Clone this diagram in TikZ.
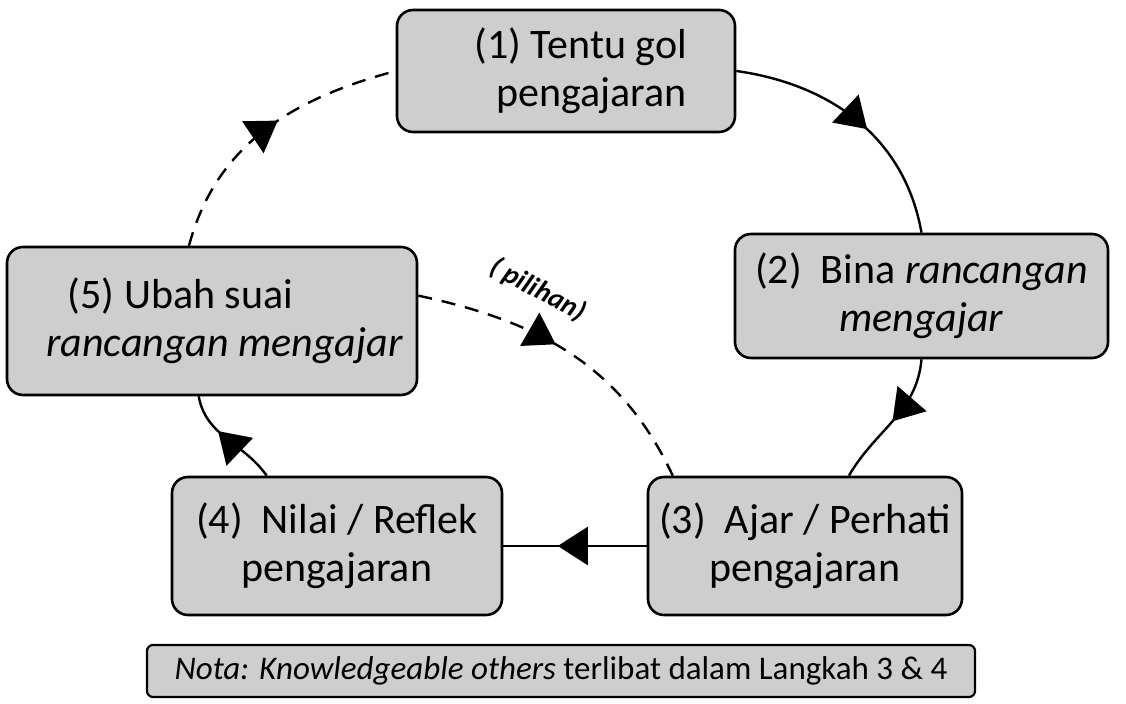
\documentclass[tikz,border=0pt]{standalone}
\usepackage{fontspec}
\setmainfont{Carlito}
\usetikzlibrary{arrows.meta,decorations.markings}
\definecolor{boxgray}{HTML}{CECECE}
\tikzset{
  stepbox/.style={draw, line width=1.3pt, rounded corners=8pt, fill=boxgray,
    align=center, font=\fontsize{21}{24}\selectfont, inner sep=0pt},
  notebox/.style={draw, line width=1.1pt, rounded corners=3pt, fill=boxgray,
    align=center, font=\fontsize{16.5}{18}\selectfont, inner sep=0pt},
  flow/.style={line width=1.2pt},
  dashflow/.style={flow, dash pattern=on 7pt off 5pt},
  midarrow/.style={postaction={decorate, decoration={markings,
    mark=at position #1 with {\arrow{Triangle[length=15pt,width=19pt]}}}}},
  pilabel/.style={font=\fontsize{14}{14}\selectfont\bfseries\itshape, inner sep=0pt}
}
\begin{document}
\begin{tikzpicture}[x=0.5pt,y=-0.5pt]
\useasboundingbox (0,0) rectangle (1126,704);
\node[stepbox, minimum width=169pt, minimum height=61pt] (b1) at (566,71)
  {\hspace*{0.7em}(1) Tentu gol\\\hspace*{1.2em}pengajaran};
\node[stepbox, minimum width=186.5pt, minimum height=62pt] (b2) at (921.5,296)
  {(2)\hspace{0.45em}Bina \textit{rancangan}\\\textit{mengajar}};
\node[stepbox, minimum width=157pt, minimum height=69pt] (b3) at (805,546)
  {(3)\hspace{0.45em}Ajar / Perhati\\pengajaran};
\node[stepbox, minimum width=165pt, minimum height=69pt] (b4) at (337,546)
  {(4)\hspace{0.45em}Nilai / Reflek\\pengajaran};
\node[stepbox, minimum width=205pt, minimum height=74pt] (b5) at (212,321)
  {(5) Ubah suai\hspace*{1.5em}\\\hspace*{0.6em}\textit{rancangan mengajar}};
\node[notebox, minimum width=414pt, minimum height=26pt] (nota) at (561,671)
  {\textit{Nota: Knowledgeable others} terlibat dalam Langkah 3 \& 4};
\node[pilabel, rotate=-28] (pil) at (538,290) {( pilihan)};

\draw[flow, midarrow=0.55] (b1.east) to[out=-8,in=100] (b2.north);
\draw[flow, midarrow=0.5] (b2.south) to[out=-95,in=60] (b3.58);
\draw[flow, midarrow=0.62] (b3.west) -- (b4.east);
\draw[flow, midarrow=0.62] (b4.135) to[out=125,in=-80] (b5.-100);
\draw[dashflow, midarrow=0.55] (b5.107) to[out=75,in=195] (b1.west);
\draw[dashflow, midarrow=0.45] (b5.7) to[out=-12,in=115] (b3.152);
\end{tikzpicture}
\end{document}
